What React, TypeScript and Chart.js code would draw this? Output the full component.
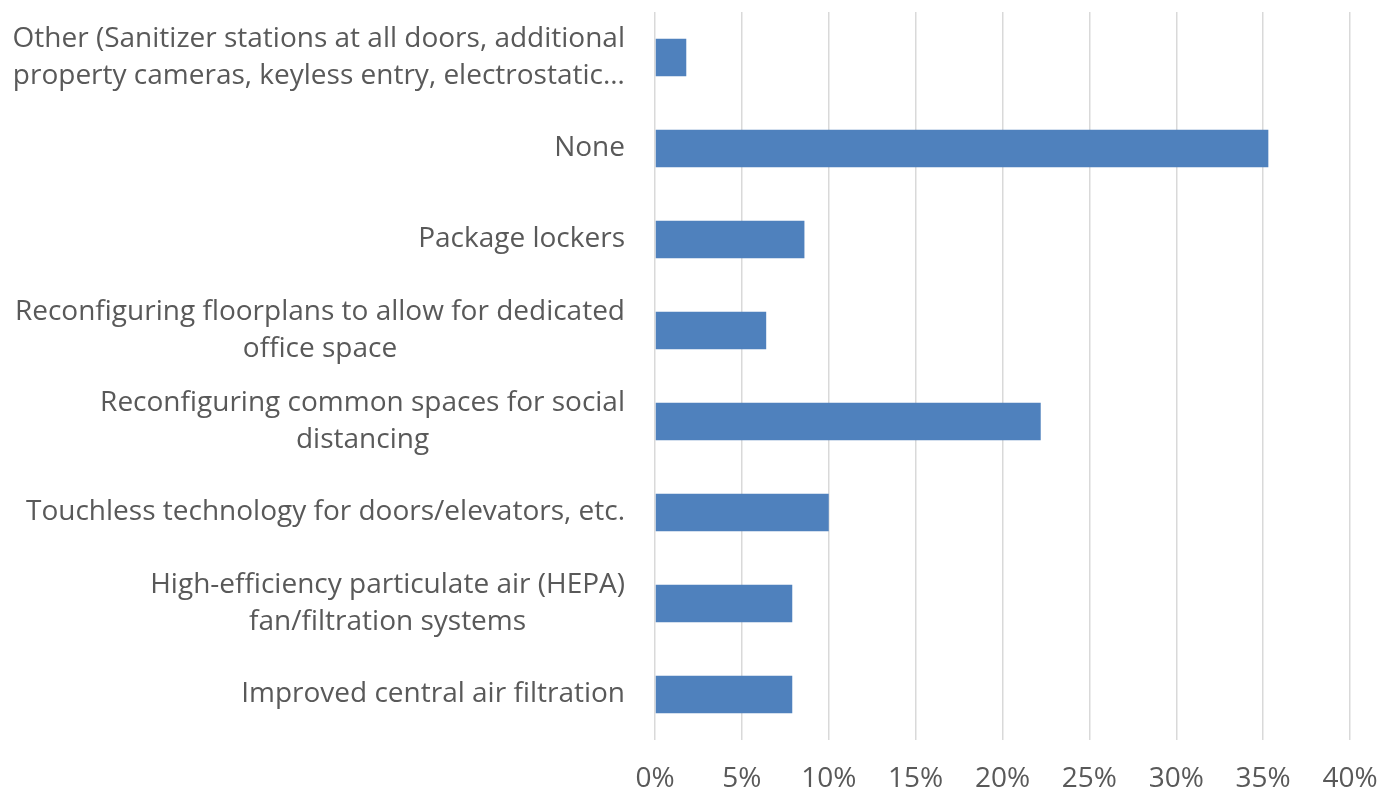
import React, { useEffect, useRef } from 'react';
import { Chart, registerables } from 'chart.js';

Chart.register(...registerables);

const categoryLines: string[][] = [
  ['Other (Sanitizer stations at all doors, additional', 'property cameras, keyless entry, electrostatic…'],
  ['None'],
  ['Package lockers'],
  ['Reconfiguring floorplans to allow for dedicated', 'office space'],
  ['Reconfiguring common spaces for social', 'distancing'],
  ['Touchless technology for doors/elevators, etc.'],
  ['High-efficiency particulate air (HEPA)', 'fan/filtration systems'],
  ['Improved central air filtration'],
];

const values: number[] = [1.8, 35.3, 8.6, 6.4, 22.2, 10.0, 7.9, 7.9];

const xMin = 0;
const xMax = 40;
const xStep = 5;

const FONT = '"Open Sans", sans-serif';
const FONT_SIZE = 28;
const SX = 1;
const LINE_H = 37;
const TEXT_COLOR = '#595959';

const labelPlugin = {
  id: 'customLabels',
  afterDraw(chart: any) {
    const ctx = chart.ctx as CanvasRenderingContext2D;
    const yScale = chart.scales.y;
    const xScale = chart.scales.x;
    ctx.save();
    ctx.font = `${FONT_SIZE}px ${FONT}`;
    ctx.fillStyle = TEXT_COLOR;
    ctx.textBaseline = 'middle';
    ctx.textAlign = 'center';
    const right = chart.chartArea.left - 30;
    categoryLines.forEach((lines, i) => {
      const cy = yScale.getPixelForValue(i);
      const widths = lines.map((l) => ctx.measureText(l).width * SX);
      const maxW = Math.max(...widths);
      const cx = right - maxW / 2;
      lines.forEach((l, j) => {
        const ly = cy + (j - (lines.length - 1) / 2) * LINE_H;
        ctx.save();
        ctx.translate(cx, ly);
        ctx.scale(SX, 1);
        ctx.fillText(l, 0, 0);
        ctx.restore();
      });
    });
    xScale.ticks.forEach((t: any, i: number) => {
      const px = xScale.getPixelForTick(i);
      ctx.save();
      ctx.translate(px, chart.chartArea.bottom + 39);
      ctx.scale(SX, 1);
      ctx.fillText(`${t.value}%`, 0, 0);
      ctx.restore();
    });
    ctx.restore();
  },
};

export default function App() {
  const canvasRef = useRef<HTMLCanvasElement | null>(null);

  useEffect(() => {
    document.body.style.margin = '0';
    const canvas = canvasRef.current;
    if (!canvas) return;
    const chart = new Chart(canvas, {
      type: 'bar',
      data: {
        labels: categoryLines.map((l) => l.join(' ')),
        datasets: [
          {
            data: values,
            backgroundColor: '#4f81bd',
            borderWidth: 0,
            barPercentage: 0.41,
            categoryPercentage: 1,
          },
        ],
      },
      options: {
        indexAxis: 'y',
        animation: false,
        responsive: true,
        maintainAspectRatio: false,
        layout: { padding: { top: 12, right: 30, left: 0, bottom: 0 } },
        plugins: {
          legend: { display: false },
          tooltip: { enabled: false },
        },
        scales: {
          x: {
            type: 'linear',
            min: xMin,
            max: xMax,
            ticks: { stepSize: xStep, display: false },
            grid: { color: '#d9d9d9', lineWidth: 1.5, drawTicks: false },
            border: { display: false },
            afterFit: (s: any) => {
              s.height = 53;
            },
          },
          y: {
            type: 'category',
            ticks: { display: false },
            grid: { display: false },
            border: { display: false },
            afterFit: (s: any) => {
              s.width = 655;
            },
          },
        },
      },
      plugins: [labelPlugin],
    });
    return () => chart.destroy();
  }, []);

  return (
    <div style={{ width: 1380, height: 793, position: 'relative' }}>
      <canvas ref={canvasRef} />
    </div>
  );
}
